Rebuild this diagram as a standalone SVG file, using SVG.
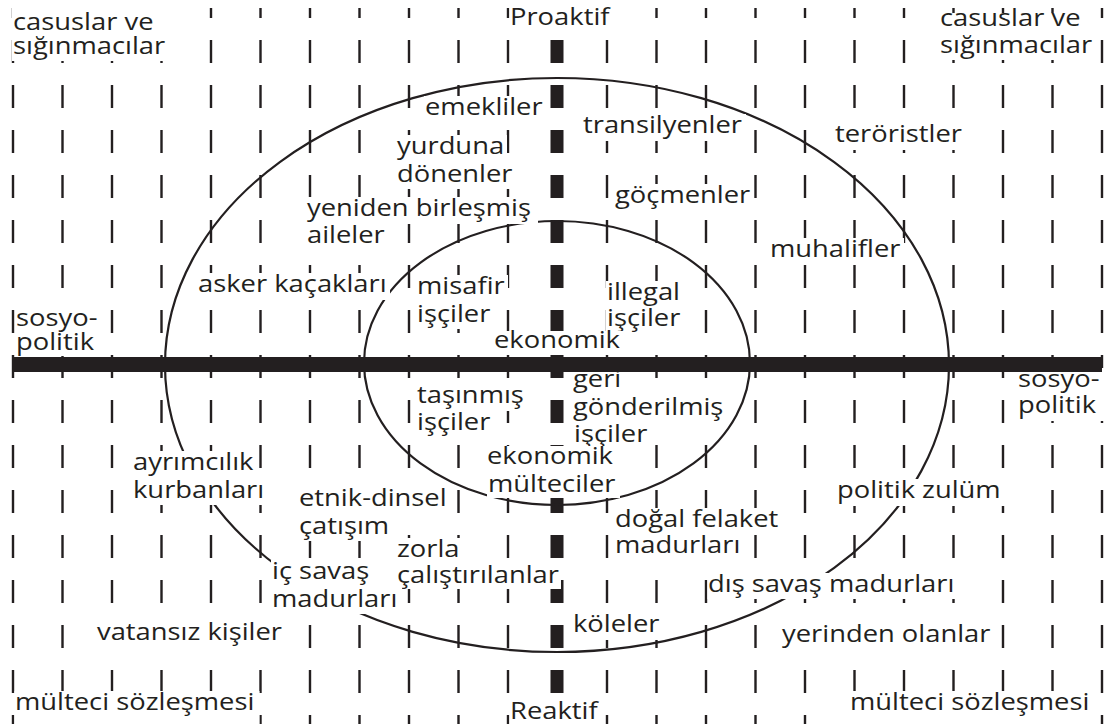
<svg xmlns="http://www.w3.org/2000/svg" width="1114" height="724" viewBox="0 0 1114 724">
<style>
.t{font-family:"Open Sans","Noto Sans",sans-serif;font-size:24px;fill:#231f20}
.bg{fill:#fff}
.g line{stroke:#231f20;stroke-width:2.4;stroke-dasharray:23 22;stroke-dashoffset:13}
.g line.c{stroke-width:13}
.ring{fill:none;stroke:#231f20;stroke-width:2.2}
</style>
<rect width="1114" height="724" fill="#fff"/>
<g id="grid" class="g">
<line x1="13" y1="8" x2="13" y2="724"/><line x1="62.5" y1="8" x2="62.5" y2="724"/><line x1="112" y1="8" x2="112" y2="724"/><line x1="161.5" y1="8" x2="161.5" y2="724"/><line x1="211" y1="8" x2="211" y2="724"/><line x1="260.5" y1="8" x2="260.5" y2="724"/><line x1="310" y1="8" x2="310" y2="724"/><line x1="359.5" y1="8" x2="359.5" y2="724"/><line x1="409" y1="8" x2="409" y2="724"/><line x1="458.5" y1="8" x2="458.5" y2="724"/><line x1="508" y1="8" x2="508" y2="724"/>
<line class="c" x1="557" y1="8" x2="557" y2="724"/>
<line x1="607" y1="8" x2="607" y2="724"/><line x1="656.5" y1="8" x2="656.5" y2="724"/><line x1="706" y1="8" x2="706" y2="724"/><line x1="755.5" y1="8" x2="755.5" y2="724"/><line x1="805" y1="8" x2="805" y2="724"/><line x1="854.5" y1="8" x2="854.5" y2="724"/><line x1="904" y1="8" x2="904" y2="724"/><line x1="953.5" y1="8" x2="953.5" y2="724"/><line x1="1003" y1="8" x2="1003" y2="724"/><line x1="1052.5" y1="8" x2="1052.5" y2="724"/><line x1="1102" y1="8" x2="1102" y2="724"/>
</g>
<g id="connectors">
<ellipse id="outer-ring" class="ring" cx="557" cy="365" rx="392" ry="287"/>
<ellipse id="inner-ring" class="ring" cx="557" cy="363" rx="193" ry="142"/>
</g>
<g id="n-casuslar-left"><rect class="bg" x="12" y="6" width="154" height="32"/><rect class="bg" x="12" y="35" width="157" height="26"/><text class="t" transform="translate(13,30) scale(1.14,1)"><tspan x="0" y="0">casuslar ve</tspan><tspan x="0" y="24">sığınmacılar</tspan></text></g>
<g id="n-casuslar-right"><rect class="bg" x="939" y="13" width="146" height="22"/><rect class="bg" x="939" y="34" width="158" height="26"/><text class="t" transform="translate(940,26) scale(1.14,1)"><tspan x="0" y="0">casuslar ve</tspan><tspan x="0" y="27">sığınmacılar</tspan></text></g>
<g id="n-proaktif"><rect class="bg" x="509.5" y="6" width="103" height="27"/><text class="t" transform="translate(510,25) scale(1.14,1)">Proaktif</text></g>
<g id="n-emekliler"><rect class="bg" x="424" y="96" width="122" height="27"/><text class="t" transform="translate(425,115) scale(1.14,1)">emekliler</text></g>
<g id="n-transilyenler"><rect class="bg" x="582" y="114" width="164" height="27"/><text class="t" transform="translate(583,133) scale(1.14,1)">transilyenler</text></g>
<g id="n-yurduna"><rect class="bg" x="396" y="135" width="111" height="27"/><rect class="bg" x="396" y="162" width="120" height="27"/><text class="t" transform="translate(397,154) scale(1.14,1)"><tspan x="0" y="0">yurduna</tspan><tspan x="0" y="28">dönenler</tspan></text></g>
<g id="n-gocmenler"><rect class="bg" x="614" y="184" width="140" height="27"/><text class="t" transform="translate(615,203) scale(1.14,1)">göçmenler</text></g>
<g id="n-teroristler"><rect class="bg" x="834" y="123" width="132" height="27"/><text class="t" transform="translate(835,142) scale(1.14,1)">teröristler</text></g>
<g id="n-yeniden"><rect class="bg" x="306" y="197" width="232" height="27"/><rect class="bg" x="306" y="224" width="82" height="27"/><text class="t" transform="translate(307,216) scale(1.14,1)"><tspan x="0" y="0">yeniden birleşmiş</tspan><tspan x="0" y="27">aileler</tspan></text></g>
<g id="n-muhalifler"><rect class="bg" x="769" y="238" width="135" height="27"/><text class="t" transform="translate(770,257) scale(1.14,1)">muhalifler</text></g>
<g id="n-asker"><rect class="bg" x="197" y="273" width="193" height="27"/><text class="t" transform="translate(198,292) scale(1.14,1)">asker kaçakları</text></g>
<g id="n-misafir"><rect class="bg" x="416" y="275" width="92" height="27"/><rect class="bg" x="416" y="302" width="78" height="27"/><text class="t" transform="translate(417,294) scale(1.14,1)"><tspan x="0" y="0">misafir</tspan><tspan x="0" y="28">işçiler</tspan></text></g>
<g id="n-illegal"><rect class="bg" x="606" y="281" width="78" height="27"/><rect class="bg" x="606" y="307" width="78" height="27"/><text class="t" transform="translate(607,300) scale(1.14,1)"><tspan x="0" y="0">illegal</tspan><tspan x="0" y="26">işçiler</tspan></text></g>
<g id="n-sosyo-left"><rect class="bg" x="15" y="307" width="86" height="27"/><rect class="bg" x="15" y="330" width="83" height="26"/><text class="t" transform="translate(16,326) scale(1.14,1)"><tspan x="0" y="0">sosyo-</tspan><tspan x="0" y="24">politik</tspan></text></g>
<g id="n-ekonomik-top"><rect class="bg" x="493" y="331" width="131" height="24"/><text class="t" transform="translate(494,348) scale(1.14,1)">ekonomik</text></g>
<g id="n-sosyo-right"><rect class="bg" x="1017" y="368" width="90" height="27"/><rect class="bg" x="1017" y="394" width="90" height="27"/><text class="t" transform="translate(1018,387) scale(1.14,1)"><tspan x="0" y="0">sosyo-</tspan><tspan x="0" y="26">politik</tspan></text></g>
<g id="n-geri"><rect class="bg" x="572" y="368" width="53" height="28"/><rect class="bg" x="572" y="396" width="156" height="27"/><rect class="bg" x="573" y="423" width="78" height="26"/><text class="t" transform="translate(573,387) scale(1.14,1)"><tspan x="0" y="0">geri</tspan><tspan x="0" y="28">gönderilmiş</tspan><tspan x="0.9" y="55">işçiler</tspan></text></g>
<g id="n-tasinmis"><rect class="bg" x="416" y="384" width="111" height="27"/><rect class="bg" x="416" y="411" width="78" height="27"/><text class="t" transform="translate(417,403) scale(1.14,1)"><tspan x="0" y="0">taşınmış</tspan><tspan x="0" y="27">işçiler</tspan></text></g>
<g id="n-ekonomik-bottom"><rect class="bg" x="486" y="446" width="131" height="27"/><rect class="bg" x="487" y="473" width="133" height="25"/><text class="t" transform="translate(487,464) scale(1.14,1)"><tspan x="0" y="0">ekonomik</tspan><tspan x="0.9" y="28">mülteciler</tspan></text></g>
<g id="n-ayrimcilik"><rect class="bg" x="132" y="451" width="125" height="28"/><rect class="bg" x="132" y="479" width="136" height="26"/><text class="t" transform="translate(133,470) scale(1.14,1)"><tspan x="0" y="0">ayrımcılık</tspan><tspan x="0" y="28">kurbanları</tspan></text></g>
<g id="n-politik-zulum"><rect class="bg" x="836" y="479" width="169" height="27"/><text class="t" transform="translate(837,498) scale(1.14,1)">politik zulüm</text></g>
<g id="n-etnik"><rect class="bg" x="298" y="487" width="154" height="28"/><rect class="bg" x="298" y="515" width="95" height="26"/><text class="t" transform="translate(299,506) scale(1.14,1)"><tspan x="0" y="0">etnik-dinsel</tspan><tspan x="0" y="28">çatışım</tspan></text></g>
<g id="n-dogal"><rect class="bg" x="614" y="508" width="168" height="27"/><rect class="bg" x="614" y="535" width="131" height="26"/><text class="t" transform="translate(615,527) scale(1.14,1)"><tspan x="0" y="0">doğal felaket</tspan><tspan x="0" y="26">madurları</tspan></text></g>
<g id="n-zorla"><rect class="bg" x="396" y="538" width="67" height="27"/><rect class="bg" x="396" y="565" width="165" height="24"/><text class="t" transform="translate(397,557) scale(1.14,1)"><tspan x="0" y="0">zorla</tspan><tspan x="0" y="26">çalıştırılanlar</tspan></text></g>
<g id="n-ic-savas"><rect class="bg" x="271" y="560" width="101" height="28"/><rect class="bg" x="271" y="588" width="131" height="26"/><text class="t" transform="translate(272,579) scale(1.14,1)"><tspan x="0" y="0">iç savaş</tspan><tspan x="0" y="28">madurları</tspan></text></g>
<g id="n-dis-savas"><rect class="bg" x="707.5" y="573" width="251" height="26"/><text class="t" transform="translate(708,592) scale(1.14,1)">dış savaş madurları</text></g>
<g id="n-koleler"><rect class="bg" x="572" y="613" width="91" height="27"/><text class="t" transform="translate(573,632) scale(1.14,1)">köleler</text></g>
<g id="n-vatansiz"><rect class="bg" x="96" y="621" width="190" height="27"/><text class="t" transform="translate(97,640) scale(1.14,1)">vatansız kişiler</text></g>
<g id="n-yerinden"><rect class="bg" x="781" y="623" width="213" height="27"/><text class="t" transform="translate(782,642) scale(1.14,1)">yerinden olanlar</text></g>
<g id="n-multeci-left"><rect class="bg" x="14.5" y="691" width="245" height="33"/><text class="t" transform="translate(15,710) scale(1.14,1)">mülteci sözleşmesi</text></g>
<g id="n-reaktif"><rect class="bg" x="509.5" y="701" width="92" height="23"/><text class="t" transform="translate(510,719) scale(1.14,1)">Reaktif</text></g>
<g id="n-multeci-right"><rect class="bg" x="849" y="691" width="251" height="33"/><text class="t" transform="translate(850,710) scale(1.14,1)">mülteci sözleşmesi</text></g>
<rect id="axis" x="12" y="357" width="1090" height="15" fill="#231f20"/>
</svg>
